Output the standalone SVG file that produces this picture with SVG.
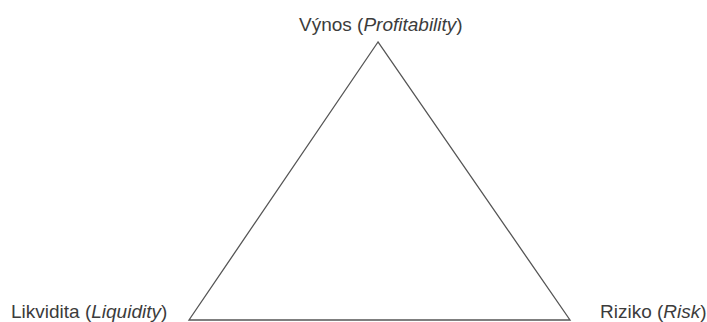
<svg xmlns="http://www.w3.org/2000/svg" width="707" height="322" viewBox="0 0 707 322">
<style>
.t{font-family:"Liberation Sans",Arial,sans-serif;font-size:19px;fill:#3c3c3c}
.i{font-style:italic}
.e{fill:none;stroke:#555;stroke-width:1.3}
</style>
<rect width="707" height="322" fill="#fff"/>
<g id="connectors">
<path class="e" d="M378,42 L189,320 L570,320 Z"/>
</g>
<g id="top"><text class="t" x="299" y="31">Výnos (<tspan class="i">Profitability</tspan>)</text></g>
<g id="left"><text class="t" x="11" y="318">Likvidita (<tspan class="i">Liquidity</tspan>)</text></g>
<g id="right"><text class="t" x="600" y="318">Riziko (<tspan class="i">Risk</tspan>)</text></g>
</svg>
